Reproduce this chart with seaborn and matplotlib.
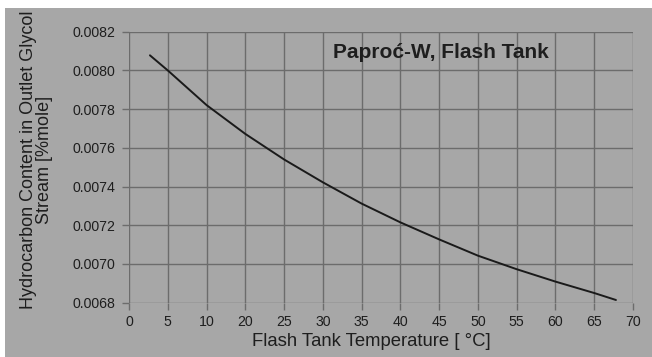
import numpy as np
import pandas as pd
import matplotlib
matplotlib.use("Agg")
import matplotlib.pyplot as plt
import seaborn as sns
from matplotlib.patches import Rectangle

# Tick labels exactly as printed on the reference (note: "15" is absent)
x_tick_labels = [0, 5, 10, 20, 25, 30, 35, 40, 45, 50, 55, 60, 65, 70]
y_ticks = [0.0068, 0.0070, 0.0072, 0.0074, 0.0076, 0.0078, 0.0080, 0.0082]

# Curve, temperature in the printed-label scale
temperature = [2.7, 5, 10, 20, 25, 30, 35, 40, 45, 50, 55, 60, 65, 67.8]
hydrocarbon = [0.008078, 0.008000, 0.007821, 0.007672, 0.007540, 0.007422,
               0.007312, 0.007215, 0.007127, 0.007043, 0.006973, 0.006909,
               0.006850, 0.006814]

title = "Paproć-W, Flash Tank"
xlabel = "Flash Tank Temperature [ °C]"
ylabel = "Hydrocarbon Content in Outlet Glycol\nStream [%mole]"

BG = "#a7a7a7"
GRID = "#6c6c6c"
TXT = "#1e1e1e"

sns.set_theme(style="whitegrid")
plt.rcParams["font.family"] = ["Liberation Sans", "DejaVu Sans"]

# positions on the axis: printed tick labels are evenly spaced
tick_pos = np.arange(len(x_tick_labels))
pos = np.interp(temperature, x_tick_labels, tick_pos)
df = pd.DataFrame({"pos": pos, "val": hydrocarbon})

fig = plt.figure(figsize=(6.52, 3.57), dpi=100, facecolor=BG)
ax = fig.add_axes([129 / 652, 1 - 302.7 / 357, (633 - 129) / 652, (302.7 - 31.7) / 357])
ax.set_facecolor(BG)

sns.lineplot(data=df, x="pos", y="val", ax=ax, color="#1a1a1a", linewidth=1.4)

ax.set_xlim(tick_pos[0], tick_pos[-1])
ax.set_ylim(y_ticks[0], y_ticks[-1])
ax.set_xticks(tick_pos)
ax.set_xticklabels([str(v) for v in x_tick_labels])
ax.set_yticks(y_ticks)
ax.set_yticklabels([f"{v:.4f}" for v in y_ticks])
ax.grid(True, color=GRID, linewidth=1.0)
for s in ax.spines.values():
    s.set_visible(False)
ax.tick_params(axis="both", colors=GRID, labelcolor=TXT, labelsize=10.2,
               length=5, width=1.0, left=True, bottom=True)
ax.tick_params(axis="x", pad=4)
ax.tick_params(axis="y", pad=4.8)

ax.set_xlabel(xlabel, fontsize=13.3, color=TXT, labelpad=3)
ax.xaxis.label.set_x(0.48)
ax.set_ylabel(ylabel, fontsize=13.0, color=TXT, labelpad=14, linespacing=0.95)
ax.yaxis.label.set_y(0.526)
ax.text(333 / 652, 1 - 52 / 357, title, transform=fig.transFigure,
        fontsize=15, fontweight="bold", color=TXT, va="center", ha="left")

# white strips at top and left edge as in the scan
fig.patches.append(Rectangle((0, 1 - 8 / 357), 1, 8 / 357, transform=fig.transFigure,
                             facecolor="white", edgecolor="none", zorder=-1))
fig.patches.append(Rectangle((0, 0), 5 / 652, 1, transform=fig.transFigure,
                             facecolor="white", edgecolor="none", zorder=-1))

fig.savefig("out.png", dpi=100, facecolor=BG)
